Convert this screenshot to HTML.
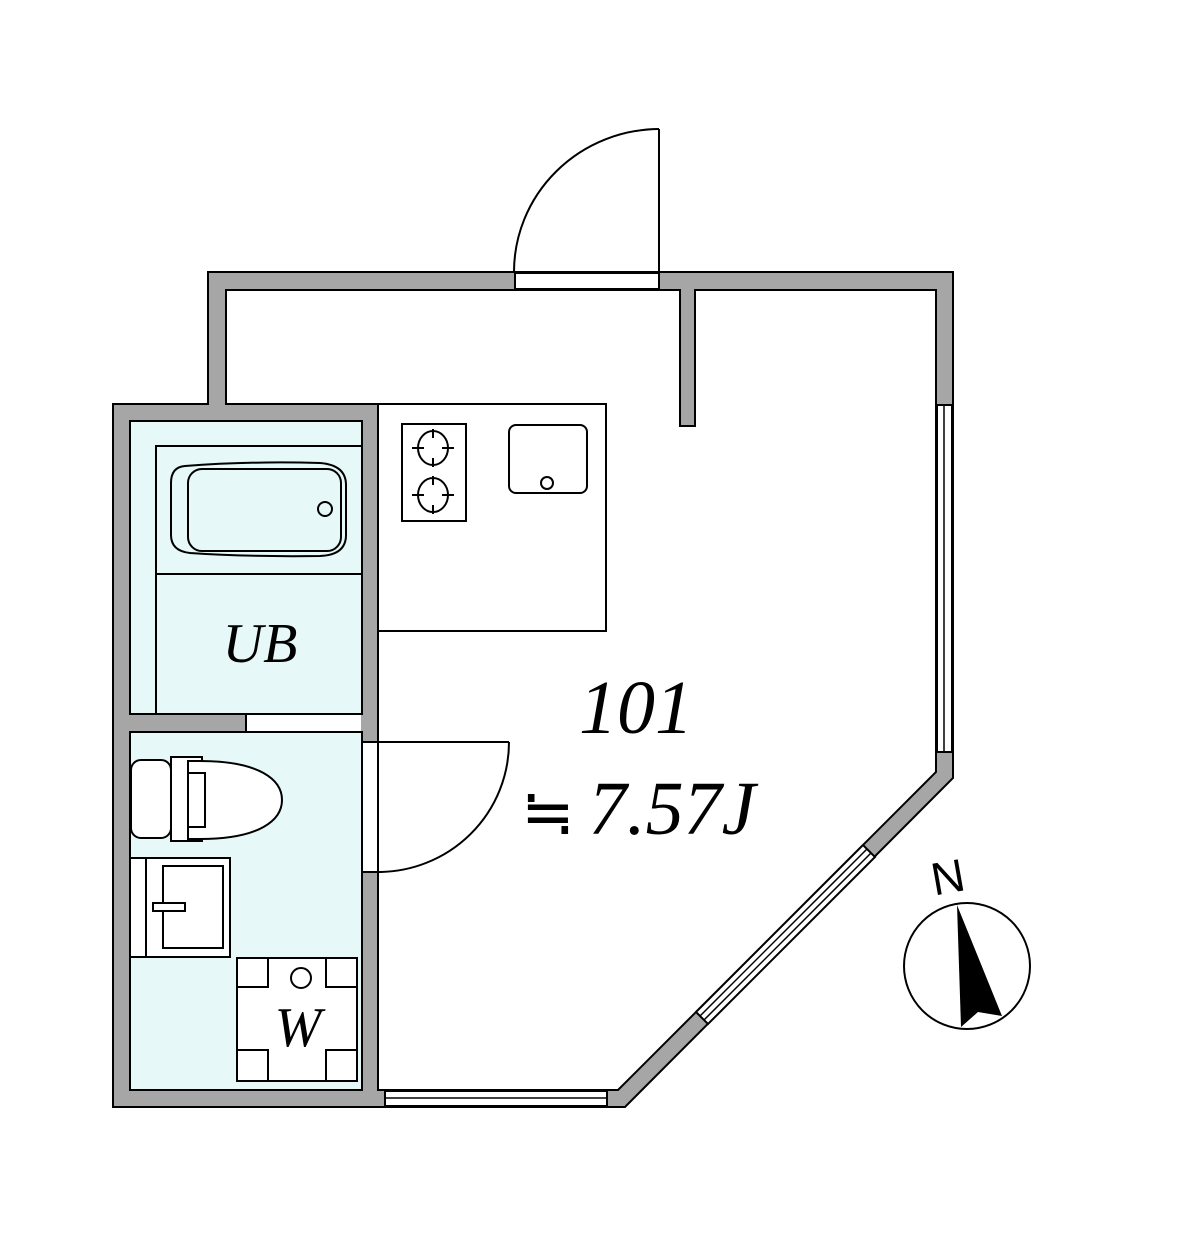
<!DOCTYPE html>
<html><head><meta charset="utf-8"><style>html,body{margin:0;padding:0;background:#fff}svg{display:block}</style></head><body>
<svg width="1183" height="1254" viewBox="0 0 1183 1254" xmlns="http://www.w3.org/2000/svg">
<g stroke="#000" stroke-width="2">
<polygon points="208,272 953,272 953,778 625,1107 113,1107 113,404 208,404" fill="#a6a6a6"/>
<polygon points="226,290 680,290 680,426 695,426 695,290 936,290 936,772 618,1090 378,1090 378,404 226,404" fill="#fff"/>
<rect x="130" y="421" width="232" height="293" fill="#e6f8f8"/>
<rect x="130" y="732" width="232" height="358" fill="#e6f8f8"/>
</g>
<rect x="247" y="715" width="114" height="16" fill="#fff"/>
<line x1="246" y1="714" x2="246" y2="732" stroke="#000" stroke-width="2"/>
<rect x="363" y="743" width="14" height="128" fill="#fff"/>
<line x1="362" y1="742" x2="378" y2="742" stroke="#000" stroke-width="2"/>
<line x1="362" y1="872" x2="378" y2="872" stroke="#000" stroke-width="2"/>
<rect x="515" y="273" width="144" height="16" fill="#fff" stroke="#000" stroke-width="2"/>
<g stroke="#000" stroke-width="2"><rect x="937" y="405" width="15" height="347" fill="#fff"/>
<line x1="944" y1="405" x2="944" y2="752" stroke-width="1.5"/></g>
<g stroke="#000"><rect x="385" y="1091" width="222" height="15" fill="#fff" stroke-width="2"/>
<line x1="385" y1="1098" x2="607" y2="1098" stroke-width="1.5"/></g>
<g stroke="#000"><polygon points="696,1012 863,845 875,857 708,1024" fill="#fff" stroke-width="2"/>
<line x1="700" y1="1016" x2="867" y2="849" stroke-width="1.5"/>
<line x1="704" y1="1020" x2="871" y2="853" stroke-width="1.5"/></g>
<g fill="none" stroke="#000" stroke-width="2">
<line x1="659" y1="129" x2="659" y2="272"/>
<path d="M514,272 A146,143 0 0 1 659,129"/>
<line x1="378" y1="742" x2="509" y2="742"/>
<path d="M509,742 A131,130 0 0 1 378,872"/>
</g>
<g stroke="#000" stroke-width="2" fill="#fff">
<rect x="378" y="404" width="228" height="227"/>
<rect x="402" y="424" width="64" height="97"/>
<ellipse cx="433" cy="448" rx="15" ry="17" fill="none"/>
<ellipse cx="433" cy="495" rx="15" ry="17" fill="none"/>
<path d="M412,448H424M442,448H454M433,429V438M433,458V467M412,495H424M442,495H454M433,476V485M433,505V514" fill="none"/>
<rect x="509" y="425" width="78" height="68" rx="7"/>
<circle cx="547" cy="483" r="6"/>
</g>
<g stroke="#000" stroke-width="2" fill="none">
<rect x="156" y="446" width="206" height="268"/>
<line x1="156" y1="574" x2="362" y2="574"/>
<path d="M185,466 Q250,461 320,463 Q346,465 346,485 L346,535 Q346,555 320,556 Q250,557 190,553 Q171,551 171,535 L171,483 Q171,467 185,466 Z"/>
<rect x="188" y="469" width="153" height="82" rx="14"/>
<circle cx="325" cy="509" r="7"/>
</g>
<text x="260" y="662" font-family="Liberation Serif, serif" font-style="italic" font-size="56" text-anchor="middle">UB</text>
<g stroke="#000" stroke-width="2" fill="#fff">
<rect x="131" y="760" width="40" height="78" rx="10"/>
<rect x="171" y="757" width="31" height="84"/>
<path d="M188,761 L200,761 C260,761 282,780 282,800 C282,820 260,839 200,839 L188,839 Z"/>
<path d="M188,761 V773 H205 V827 H188 V839" fill="none"/>
<rect x="130" y="858" width="100" height="99"/>
<line x1="146" y1="858" x2="146" y2="957"/>
<rect x="163" y="866" width="60" height="82"/>
<rect x="153" y="903" width="32" height="8"/>
<rect x="237" y="958" width="120" height="123"/>
<rect x="237" y="958" width="31" height="29"/>
<rect x="326" y="958" width="31" height="29"/>
<rect x="237" y="1050" width="31" height="31"/>
<rect x="326" y="1050" width="31" height="31"/>
<circle cx="301" cy="978" r="10"/>
</g>
<text x="298" y="1046" font-family="Liberation Serif, serif" font-style="italic" font-size="56" text-anchor="middle">W</text>
<text x="636" y="733" font-family="Liberation Serif, serif" font-style="italic" font-size="76" text-anchor="middle">101</text>
<text x="548" y="834" font-family="Noto Serif CJK SC, serif" font-size="64" text-anchor="middle">≒</text>
<text x="672" y="834" font-family="Liberation Serif, serif" font-style="italic" font-size="76" text-anchor="middle">7.57J</text>
<circle cx="967" cy="966" r="63" fill="#fff" stroke="#000" stroke-width="2"/>
<polygon points="957,905 1002,1016 978,1012 961,1027" fill="#000"/>
<text x="948" y="893" font-family="Liberation Sans, sans-serif" font-size="46" text-anchor="middle" transform="rotate(-10 948 878)">N</text>
</svg>
</body></html>
